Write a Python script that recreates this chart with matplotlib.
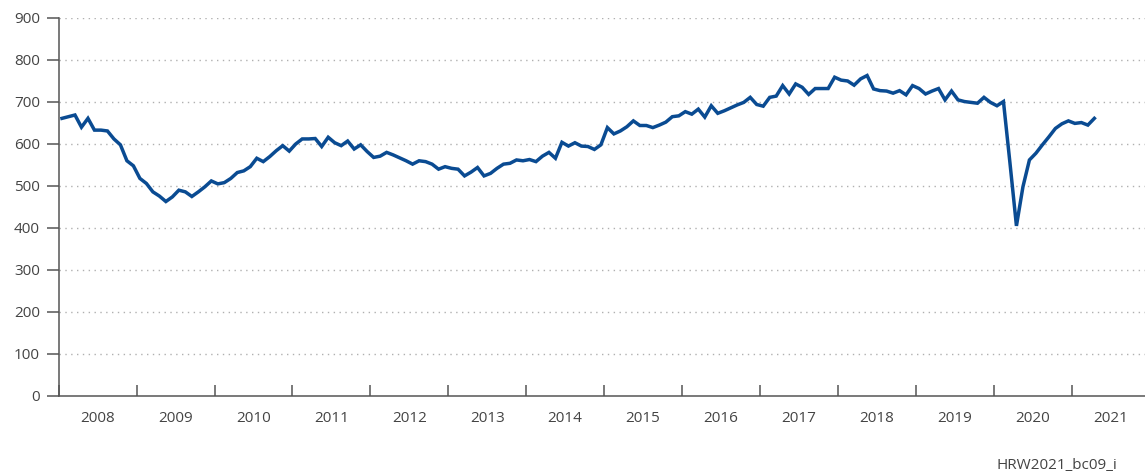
import numpy as np
import matplotlib as mpl
mpl.rcParams.update({'font.family': ['Open Sans', 'DejaVu Sans']})
import matplotlib.pyplot as plt
from matplotlib.ticker import FixedLocator, NullFormatter

#%% Data (monthly values, Jan 2008 - Apr 2021)

years = [str(y) for y in range(2008, 2022)]

v2008 = [661, 665, 669, 640, 661, 633, 633, 631, 612, 598, 560, 548]
v2009 = [518, 506, 486, 476, 463, 474, 490, 486, 475, 486, 498, 512]
v2010 = [505, 508, 518, 532, 536, 546, 566, 558, 570, 584, 596, 583]
v2011 = [600, 612, 612, 613, 594, 616, 603, 596, 607, 588, 598, 582]
v2012 = [568, 571, 580, 574, 567, 560, 552, 560, 558, 552, 540, 546]
v2013 = [542, 540, 524, 533, 544, 524, 530, 542, 552, 554, 562, 560]
v2014 = [563, 558, 571, 580, 566, 604, 595, 603, 595, 594, 587, 598]
v2015 = [639, 624, 631, 641, 655, 644, 644, 639, 645, 652, 665, 667]
v2016 = [677, 671, 683, 664, 691, 673, 679, 686, 693, 699, 711, 694]
v2017 = [690, 711, 714, 739, 719, 743, 735, 718, 732, 732, 732, 759]
v2018 = [752, 750, 740, 755, 763, 731, 727, 726, 721, 727, 717, 739]
v2019 = [732, 719, 726, 732, 705, 726, 705, 701, 699, 697, 711, 699]
v2020 = [691, 701, 555, 405, 498, 562, 578, 598, 617, 637, 648, 655]
v2021 = [649, 651, 645, 661]

values = (v2008 + v2009 + v2010 + v2011 + v2012 + v2013 + v2014 + v2015
          + v2016 + v2017 + v2018 + v2019 + v2020 + v2021)

source = 'HRW2021_bc09_i'

#%% Plot

# month centres, in months since Jan 2008
x = np.arange(len(values)) + 0.5

axcol = '#555555'
txtcol = '#444444'

fig = plt.figure(figsize=(11.45, 4.73), dpi=100)
ax = fig.add_axes([0.0513, 0.1628, 0.9487, 0.7992])

ax.plot(x, values, color='#0a4b92', lw=2.5, solid_joinstyle='miter')

ax.set_ylim(0, 900)
ax.set_xlim(0, 167.3)
ax.set_yticks(np.arange(0, 901, 100))

# dotted horizontal grid
for yv in range(100, 901, 100):
    ax.axhline(yv, color='#b0b0b0', lw=1.0, ls=(0, (1, 3.2)), zorder=0)

# year boundaries as ticks, labels centred in each year
ax.xaxis.set_major_locator(FixedLocator(np.arange(0, 13 * 12 + 1, 12)))
ax.xaxis.set_major_formatter(NullFormatter())
ax.xaxis.set_minor_locator(FixedLocator(np.arange(6, 14 * 12, 12)))
ax.set_xticklabels(years, minor=True)
ax.tick_params(axis='x', which='major', direction='in', length=8,
               width=1.1, color=axcol)
ax.tick_params(axis='x', which='minor', length=0, pad=11,
               labelsize=11, labelcolor=txtcol)
ax.tick_params(axis='y', direction='out', length=8.6, width=1.1,
               color=axcol, pad=5, labelsize=11, labelcolor=txtcol)

for s in ['top', 'right']:
    ax.spines[s].set_visible(False)
for s in ['left', 'bottom']:
    ax.spines[s].set_color(axcol)
    ax.spines[s].set_linewidth(1.1)

fig.text(1117 / 1145, 1 - 465 / 473, source, ha='right', va='center',
         fontsize=11, color=txtcol)

plt.savefig('out.png', dpi=100)
